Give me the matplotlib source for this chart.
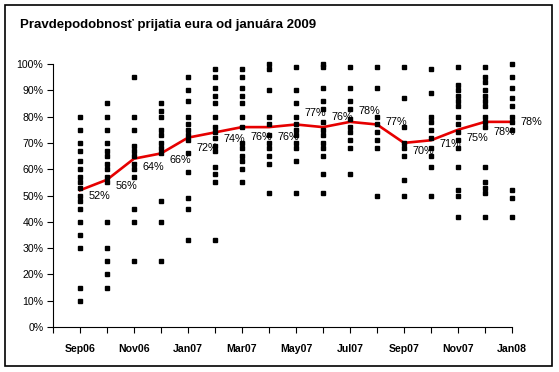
import matplotlib
matplotlib.use("Agg")
import matplotlib.pyplot as plt
from matplotlib.patches import Rectangle

plt.rcParams["font.family"] = ["Liberation Sans", "DejaVu Sans"]

# months shown on the axis (axis starts one month before the first survey)
months = ["Aug06", "Sep06", "Oct06", "Nov06", "Dec06", "Jan07", "Feb07", "Mar07",
          "Apr07", "May07", "Jun07", "Jul07", "Aug07", "Sep07", "Oct07", "Nov07",
          "Dec07", "Jan08"]

# average probability (red line), Sep06 .. Jan08
average = [52, 56, 64, 66, 72, 74, 76, 76, 77, 76, 78, 77, 70, 71, 75, 78, 78]

# individual analyst answers per month, Sep06 .. Jan08
answers = [
    [10, 15, 30, 35, 40, 45, 48, 50, 53, 55, 57, 60, 63, 67, 70, 75, 80],
    [15, 20, 25, 30, 40, 55, 57, 60, 62, 65, 67, 70, 75, 80, 85],
    [25, 40, 45, 57, 60, 62, 65, 67, 69, 75, 80, 95],
    [25, 40, 48, 66, 68, 70, 73, 75, 80, 82, 85],
    [33, 45, 49, 59, 66, 71, 73, 75, 77, 80, 86, 90, 95],
    [33, 55, 58, 61, 67, 69, 72, 74, 76, 80, 85, 88, 91, 95, 98],
    [55, 60, 63, 65, 68, 70, 76, 80, 85, 88, 91, 95, 98],
    [51, 62, 65, 68, 70, 73, 77, 80, 90, 98, 100],
    [51, 63, 68, 70, 73, 75, 77, 80, 85, 90, 99],
    [51, 58, 65, 68, 70, 73, 75, 78, 83, 86, 91, 99, 100],
    [58, 68, 71, 74, 76, 79, 83, 86, 91, 99],
    [50, 68, 71, 74, 77, 80, 91, 99],
    [50, 56, 65, 68, 70, 76, 87, 99],
    [50, 61, 65, 68, 72, 75, 78, 80, 89, 98],
    [42, 50, 52, 61, 68, 71, 74, 77, 80, 84, 86, 88, 90, 92, 99],
    [42, 51, 53, 55, 61, 76, 78, 80, 84, 86, 88, 90, 93, 95, 99],
    [42, 49, 52, 75, 78, 80, 84, 87, 91, 95, 100],
]

# vertical shift of each value label (pixels, + is up), mimicking Excel placement
label_dy = [-6, -6, -8, -7, -10, -7, -10, -10, 11, 10, 11, 2, -8, -4, -8, -10, 0]

fig = plt.figure(figsize=(5.59, 3.72), dpi=100)
W, H = 559, 372
ax = fig.add_axes([53 / W, 1 - 327 / H, (512 - 53) / W, (327 - 64) / H])

xs = list(range(1, len(months)))
for x, vals in zip(xs, answers):
    ax.plot([x] * len(vals), [v / 100 for v in vals], ls="none", marker="s",
            ms=3.4, color="black", zorder=4, clip_on=False)
ax.plot(xs, [v / 100 for v in average], color="#e60000", lw=1.9, zorder=3)

for x, v, dy in zip(xs, average, label_dy):
    ax.annotate(f"{v}%", (x, v / 100), xytext=(19, dy), textcoords="offset pixels",
                ha="center", va="center", fontsize=7.8, zorder=5)

ax.set_xlim(0, len(months) - 1)
ax.set_ylim(0, 1)
ax.set_yticks([i / 10 for i in range(11)], [f"{i * 10}%" for i in range(11)])
ax.set_xticks(range(len(months)),
              [m if i % 2 == 1 else "" for i, m in enumerate(months)])
ax.tick_params(axis="y", length=4, width=0.8, pad=3, labelsize=7.6)
ax.tick_params(axis="x", length=4, width=0.8, pad=8, labelsize=7.6)
for lab in ax.get_xticklabels():
    lab.set_fontweight("bold")
for s in ("top", "right"):
    ax.spines[s].set_visible(False)
for s in ("left", "bottom"):
    ax.spines[s].set_linewidth(0.8)

fig.text(20 / W, 1 - 25 / H, "Pravdepodobnosť prijatia eura od januára 2009",
         fontsize=9.5, fontweight="bold", va="center", ha="left")
fig.patches.append(Rectangle((5 / W, 1 - 366 / H), (552 - 5) / W, (366 - 5) / H,
                             transform=fig.transFigure, fill=False, lw=1.2,
                             edgecolor="black"))

fig.savefig("out.png", dpi=100)
